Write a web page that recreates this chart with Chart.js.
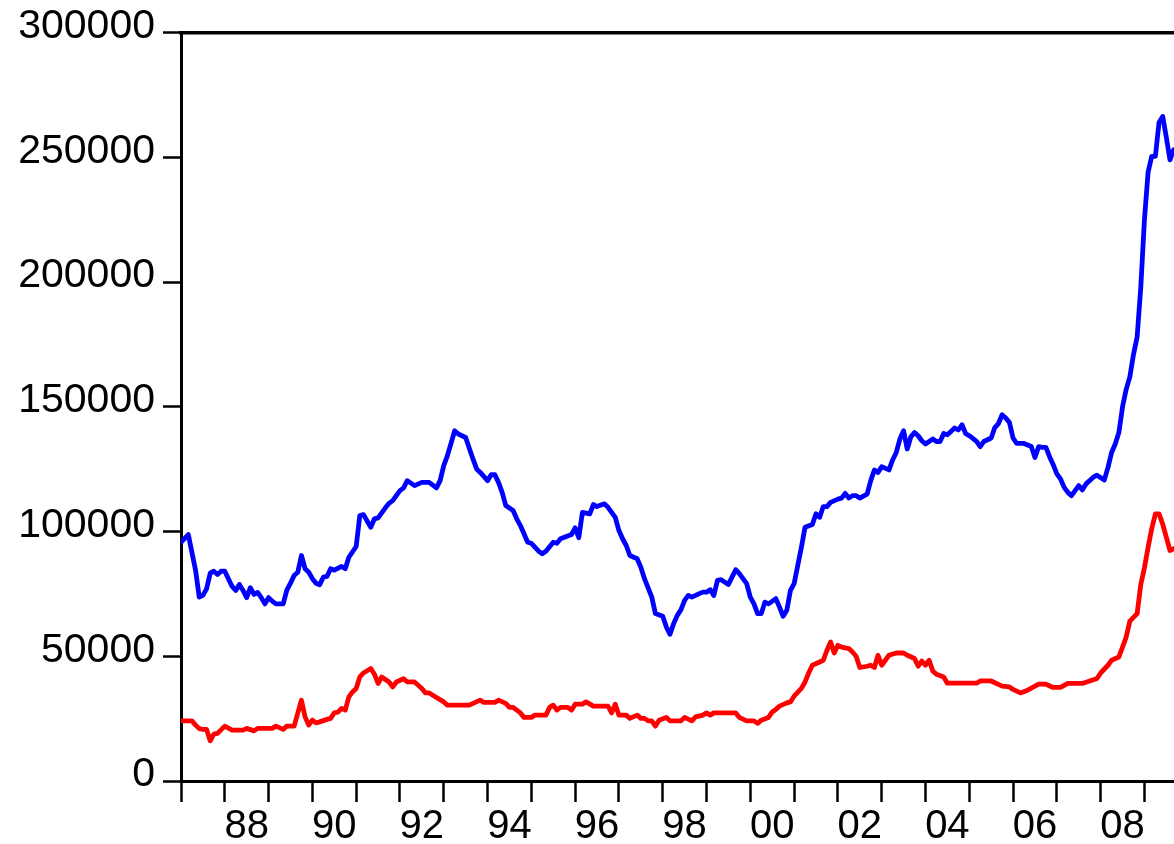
<!DOCTYPE html>
<html>
<head>
<meta charset="utf-8">
<script src="https://cdn.jsdelivr.net/npm/chart.js@4.4.1/dist/chart.umd.min.js"></script>
<style>
html,body{margin:0;padding:0;background:#ffffff;overflow:hidden;}
#wrap{width:1174px;height:844px;position:relative;}
</style>
</head>
<body>
<div id="wrap"><canvas id="c" width="1174" height="844"></canvas></div>
<script>
const blueDates = [
 '1987-01','1987-03','1987-05','1987-06','1987-07','1987-08','1987-09','1987-10','1987-11','1987-12',
 '1988-01','1988-03','1988-04','1988-05','1988-06','1988-07','1988-08','1988-09','1988-10','1988-11','1988-12',
 '1989-01','1989-02','1989-03','1989-05','1989-06','1989-07','1989-08','1989-09','1989-10','1989-11','1989-12',
 '1990-01','1990-02','1990-03','1990-04','1990-05','1990-06','1990-07','1990-09','1990-10','1990-11',
 '1991-01','1991-02','1991-03','1991-05','1991-06','1991-07','1991-09','1991-10','1991-11',
 '1992-01','1992-02','1992-03','1992-05','1992-07','1992-09','1992-11','1992-12',
 '1993-01','1993-02','1993-04','1993-05','1993-07','1993-09','1993-10','1993-11',
 '1994-01','1994-02','1994-03','1994-04','1994-05','1994-06','1994-08','1994-09','1994-10','1994-12',
 '1995-01','1995-03','1995-04','1995-05','1995-07','1995-08','1995-09','1995-12',
 '1996-01','1996-02','1996-03','1996-05','1996-06','1996-07','1996-09','1996-10','1996-12',
 '1997-01','1997-02','1997-03','1997-04','1997-06','1997-07','1997-08','1997-10','1997-11',
 '1998-01','1998-02','1998-03','1998-04','1998-05','1998-06','1998-07','1998-08','1998-09','1998-11','1998-12',
 '1999-01','1999-02','1999-03','1999-04','1999-05','1999-07','1999-08','1999-09','1999-10','1999-12',
 '2000-01','2000-02','2000-03','2000-04','2000-05','2000-06','2000-08','2000-09','2000-10','2000-11','2000-12',
 '2001-01','2001-02','2001-03','2001-04','2001-06','2001-07','2001-08','2001-09','2001-10','2001-11',
 '2002-01','2002-02','2002-03','2002-04','2002-05','2002-06','2002-07','2002-09','2002-10','2002-11','2002-12',
 '2003-01','2003-03','2003-04','2003-05','2003-06','2003-07','2003-08','2003-09','2003-10','2003-11','2003-12',
 '2004-01','2004-03','2004-04','2004-05','2004-06','2004-07','2004-09','2004-10','2004-11','2004-12',
 '2005-01','2005-03','2005-04','2005-05','2005-07','2005-08','2005-09','2005-10','2005-11','2005-12',
 '2006-01','2006-02','2006-04','2006-06','2006-07','2006-08','2006-09','2006-10','2006-11','2006-12',
 '2007-01','2007-02','2007-03','2007-04','2007-05','2007-07','2007-08','2007-09','2007-11','2007-12',
 '2008-02','2008-03','2008-04','2008-05','2008-06','2008-07','2008-08','2008-09','2008-10','2008-11','2008-12',
 '2009-01','2009-02','2009-03','2009-04','2009-05','2009-06','2009-07','2009-08','2009-09'
];
const blueValues = [
 95700,98800,84400,73700,74400,77000,83300,84100,82800,84100,
 84100,78000,76400,78800,76400,73500,77500,74800,75600,73500,71000,
 73500,72100,71000,71000,76500,79300,82400,83700,90400,85100,83700,
 81100,79300,78700,81700,82000,85100,84500,86000,85100,89700,
 94000,106400,106800,101700,105100,105500,109500,111300,112400,
 116400,117500,120400,118400,119700,119700,117500,120400,
 126400,130400,140400,139100,137700,129100,125100,123700,
 120400,122800,122800,119700,115700,110400,108400,105100,102400,95700,
 95300,92100,91100,92100,95700,95300,97100,98800,
 101500,97500,107700,107100,110800,110000,111100,109700,105700,
 100400,97100,94400,90400,89100,85700,81100,73700,67100,
 66000,61700,58800,63100,66400,68700,72400,74400,73700,75100,75700,
 75700,76700,74400,80400,80700,78800,81700,84700,83100,79100,
 73700,71000,67100,67100,71700,71000,73100,69700,66000,68400,76400,
 79100,86400,93700,101700,102800,107100,105700,110000,110000,111700,
 113000,113400,115300,113400,114400,114400,113400,115000,120400,124700,123700,
 126000,124700,128700,131700,137100,140400,133100,138000,139700,138400,136400,
 135100,137100,136100,136100,139300,138800,141500,140700,142800,139300,
 138400,136100,134000,136100,137500,141700,143300,146800,145500,143700,
 137500,135300,135300,134100,129700,134000,133700,133700,130000,126800,
 123100,121100,117700,115700,114400,118400,116700,119100,121800,122600,
 120700,125600,131700,135100,139700,150000,157000,162000,171000,178000,198000,
 225000,244000,250400,250400,264000,266400,258000,249000,253000
];
const redDates = [
 '1987-01','1987-04','1987-05','1987-06','1987-07','1987-08','1987-09','1987-10','1987-11',
 '1988-01','1988-03','1988-06','1988-07','1988-09','1988-10',
 '1989-02','1989-03','1989-05','1989-06','1989-08','1989-10','1989-11','1989-12',
 '1990-01','1990-02','1990-03','1990-05','1990-06','1990-07','1990-08','1990-09','1990-10','1990-11','1990-12',
 '1991-01','1991-02','1991-03','1991-05','1991-06','1991-07','1991-08','1991-10','1991-11','1991-12',
 '1992-02','1992-03','1992-05','1992-06','1992-07','1992-08','1992-09','1992-11',
 '1993-01','1993-02','1993-08','1993-11','1993-12',
 '1994-03','1994-04','1994-06','1994-07','1994-08','1994-10','1994-11',
 '1995-01','1995-02','1995-05','1995-06','1995-07','1995-08','1995-09','1995-11','1995-12',
 '1996-01','1996-03','1996-04','1996-06','1996-10','1996-11','1996-12',
 '1997-01','1997-03','1997-04','1997-06','1997-07','1997-08','1997-09','1997-10','1997-11','1997-12',
 '1998-02','1998-03','1998-06','1998-07','1998-09','1998-10','1998-12',
 '1999-01','1999-02','1999-03','1999-09','1999-10','1999-12',
 '2000-02','2000-03','2000-04','2000-06','2000-07','2000-08','2000-09','2000-11','2000-12',
 '2001-01','2001-03','2001-04','2001-05','2001-06','2001-08','2001-09','2001-10','2001-11','2001-12',
 '2002-01','2002-02','2002-04','2002-05','2002-06','2002-07','2002-09','2002-10','2002-11','2002-12',
 '2003-01','2003-03','2003-05','2003-07','2003-08','2003-10','2003-11','2003-12',
 '2004-01','2004-02','2004-03','2004-04','2004-06','2004-07',
 '2005-03','2005-04','2005-07','2005-10','2005-12',
 '2006-01','2006-03','2006-05','2006-08','2006-10','2006-12',
 '2007-02','2007-04','2007-08','2007-10','2007-12',
 '2008-01','2008-03','2008-04','2008-06','2008-08','2008-09','2008-11','2008-12',
 '2009-01','2009-02','2009-03','2009-04','2009-05','2009-06','2009-08','2009-09'
];
const redValues = [
 24100,24100,22400,21000,20700,20700,16100,18800,19100,
 22000,20400,20400,21100,20100,21100,
 21100,22000,20700,22000,22000,32400,25700,22400,
 24400,23300,23700,24700,25100,27300,27600,29100,28400,33700,35700,
 37100,41700,43300,45100,42800,39100,41700,39700,37700,39700,
 41000,39700,39700,38400,37100,35300,35300,33500,
 31700,30400,30400,32400,31500,
 31500,32400,31100,29500,29500,27300,25500,
 25500,26400,26400,29500,30400,28400,29500,29500,28400,
 30800,30800,31700,30000,30000,27300,30800,
 26400,26400,25100,26400,25100,25100,24100,24100,22000,24400,
 25500,24100,24100,25500,24100,25700,26400,
 27300,26400,27300,27300,25500,24100,
 24100,23100,24400,25500,27700,28700,30000,31300,31700,
 34000,37100,39700,43300,46400,47700,48400,52400,55700,51300,
 54400,53700,53100,51700,50000,45500,46000,46400,45500,50400,
 46400,50400,51300,51300,50400,49100,46000,48100,
 46400,48400,44100,42800,41700,39200,
 39200,40100,40100,38000,37700,
 36700,35300,36400,38800,38800,37500,
 37500,39100,39100,40100,41100,
 43300,46400,48400,49700,57700,64100,67100,78800,
 85500,93700,101100,107100,107100,103000,92400,93100
];
const yearLabels = ['88','90','92','94','96','98','00','02','04','06','08'];
const labelYears = [1988,1990,1992,1994,1996,1998,2000,2002,2004,2006,2008];
const yTickValues = [0,50000,100000,150000,200000,250000,300000];
const firstYear = 1987;
const lastTickYear = 2009;

// ---- helpers ----
function monthIndex(s){ const p = s.split('-').map(Number); return (p[0]-firstYear)*12 + (p[1]-1); }
function toPoints(dates, vals){ return dates.map((d,i)=>({x: monthIndex(d), y: vals[i]})); }

// ticks: year boundaries (marks) and mid-year positions (labels)
const xTicks = [];
for (let y = firstYear; y <= lastTickYear; y++) { xTicks.push((y-firstYear)*12); xTicks.push((y-firstYear)*12 + 6); }
const labelAt = {};
labelYears.forEach((y,i)=>{ labelAt[(y-firstYear)*12 + 6] = yearLabels[i]; });

const X_MAX = 272.1;
const FONT = "'Liberation Sans', Arial, Helvetica, sans-serif";

new Chart(document.getElementById('c'), {
  type: 'line',
  data: {
    datasets: [
      { data: toPoints(blueDates, blueValues), borderColor: '#0000ff', borderWidth: 4.8, pointRadius: 0, tension: 0, fill: false, xAxisID: 'x', yAxisID: 'y' },
      { data: toPoints(redDates, redValues), borderColor: '#ff0000', borderWidth: 4.8, pointRadius: 0, tension: 0, fill: false, xAxisID: 'x', yAxisID: 'y' }
    ]
  },
  options: {
    responsive: false,
    animation: false,
    parsing: false,
    normalized: true,
    layout: { padding: { top: 31, left: 0, right: 0, bottom: 0 } },
    plugins: { legend: { display: false }, tooltip: { enabled: false }, title: { display: false } },
    elements: { line: { borderJoinStyle: 'round', borderCapStyle: 'round' } },
    scales: {
      x: {
        type: 'linear', position: 'bottom', min: 0, max: X_MAX,
        afterBuildTicks: (s) => { s.ticks = xTicks.map(v => ({ value: v })); },
        afterFit: (s) => { s.height = 63; },
        ticks: {
          autoSkip: false, maxRotation: 0, minRotation: 0, padding: 1,
          color: '#000', font: { family: FONT, size: 40 },
          callback: (v) => labelAt[v] || ''
        },
        grid: {
          drawOnChartArea: false, drawTicks: true, tickLength: 21, tickWidth: 2.5,
          tickColor: (ctx) => (ctx.tick && ctx.tick.value % 12 === 0) ? '#000' : 'rgba(0,0,0,0)'
        },
        border: { display: true, color: '#000', width: 3 }
      },
      xTop: {
        type: 'linear', position: 'top', min: 0, max: X_MAX,
        ticks: { display: false },
        grid: { display: false, drawTicks: false },
        border: { display: true, color: '#000', width: 3.5 }
      },
      y: {
        type: 'linear', position: 'left', min: 0, max: 300000,
        afterBuildTicks: (s) => { s.ticks = yTickValues.map(v => ({ value: v })); },
        afterFit: (s) => { s.width = 181; },
        ticks: {
          padding: 8, labelOffset: -6, color: '#000', font: { family: FONT, size: 41 },
          callback: (v) => String(v)
        },
        grid: { drawOnChartArea: false, drawTicks: true, tickLength: 18, tickWidth: 2.5, tickColor: '#000' },
        border: { display: true, color: '#000', width: 3 }
      }
    }
  }
});
</script>
</body>
</html>
